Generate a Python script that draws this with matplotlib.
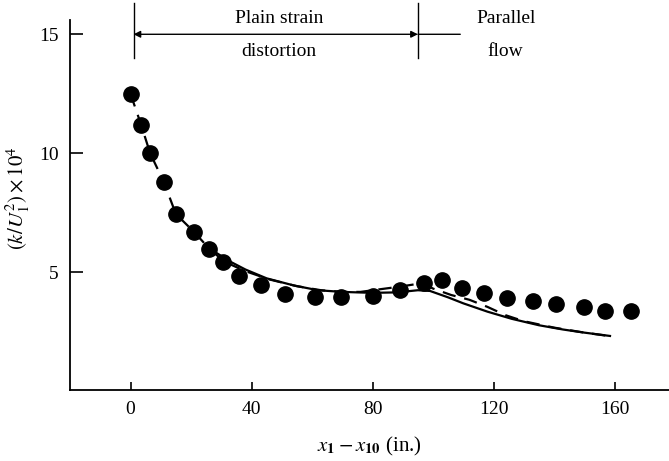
import matplotlib
matplotlib.use("Agg")
import matplotlib.pyplot as plt

# measured k/U1^2 (x 10^4) along the duct
x_meas = [0, 3.5, 6.5, 11, 15, 21, 26, 30.5, 36, 43, 51, 61, 69.5, 80, 89,
          97, 103, 109.5, 117, 124.5, 133, 140.5, 150, 157, 165.5]
k_meas = [12.5, 11.2, 10.0, 8.8, 7.45, 6.7, 6.0, 5.45, 4.85, 4.45, 4.1, 3.97,
          3.95, 4.0, 4.26, 4.57, 4.68, 4.35, 4.15, 3.93, 3.78, 3.69, 3.54, 3.36, 3.39]

# computed curve, solid
x_solid = [28, 33, 38, 45, 54, 62, 70, 80, 88, 95, 99, 105, 110, 118, 126,
           135, 143, 150, 158.5]
k_solid = [5.85, 5.45, 5.12, 4.75, 4.45, 4.25, 4.18, 4.14, 4.16, 4.25, 4.22,
           3.95, 3.7, 3.35, 3.05, 2.78, 2.6, 2.47, 2.33]

# computed curve, dashed
x_dash = [0, 3.5, 6.5, 11, 15, 21, 26, 31, 38, 46, 55, 63, 70, 76, 83, 89,
          94, 97, 100, 106, 112, 118, 124, 130, 140, 150, 158]
k_dash = [12.5, 11.2, 10.0, 8.8, 7.45, 6.7, 6.0, 5.45, 5.05, 4.7, 4.42, 4.25,
          4.18, 4.18, 4.3, 4.4, 4.5, 4.52, 4.32, 4.05, 3.85, 3.55, 3.2, 2.95,
          2.68, 2.47, 2.33]

x_ticks = [0, 40, 80, 120, 160]
y_ticks = [5, 10, 15]

# region boundaries (x) for the labels above the curves
x_start, x_switch, x_end = 1, 95, 109

plt.rcParams["font.family"] = ["Liberation Serif", "DejaVu Serif"]
plt.rcParams["mathtext.fontset"] = "stix"

fig = plt.figure(figsize=(6.69, 4.61), dpi=100)
ax = fig.add_axes([70 / 669, 1 - 390 / 461, 1 - 70 / 669, (390 - 20) / 461])

ax.plot(x_dash, k_dash, color="black", lw=1.6, dashes=(6, 4))
ax.plot(x_solid, k_solid, color="black", lw=1.6)
ax.plot(x_meas, k_meas, "o", color="black", ms=11, zorder=3)

ax.set_xlim(-20, 178)
ax.set_ylim(0.06, 15.6)
ax.set_xticks(x_ticks)
ax.set_yticks(y_ticks)
ax.tick_params(axis="x", direction="in", length=6, width=1.2, labelsize=14, pad=8)
ax.tick_params(axis="y", direction="in", length=9, width=1.2, labelsize=14, pad=8)
for s in ("top", "right"):
    ax.spines[s].set_visible(False)
for s in ("left", "bottom"):
    ax.spines[s].set_linewidth(1.3)

ax.set_xlabel(r"$x_\mathbf{1} - x_\mathbf{10}$ (in.)", fontsize=15, labelpad=12)
ax.set_ylabel(r"$(k/U_1^2)\times10^4$", fontsize=15)
ax.yaxis.set_label_coords(-0.064, 0.52)

# region markers above the plot
y_arrow = 15.0
for xb in (x_start, x_switch):
    ax.plot([xb, xb], [14.0, 16.3], color="black", lw=1, clip_on=False)
ax.annotate("", xy=(x_start, y_arrow), xytext=(x_switch, y_arrow),
            arrowprops=dict(arrowstyle="<|-|>", color="black", lw=1,
                            mutation_scale=10, shrinkA=0, shrinkB=0),
            annotation_clip=False)
ax.annotate("", xy=(x_switch, y_arrow), xytext=(x_end, y_arrow),
            arrowprops=dict(arrowstyle="-", color="black", lw=1,
                            shrinkA=0, shrinkB=0),
            annotation_clip=False)
ax.text(49, 15.66, "Plain strain", ha="center", va="center", fontsize=14)
ax.text(49, 14.28, "distortion", ha="center", va="center", fontsize=14)
ax.text(124, 15.66, "Parallel", ha="center", va="center", fontsize=14)
ax.text(124, 14.28, "flow", ha="center", va="center", fontsize=14)

fig.savefig("out.png", dpi=100)
